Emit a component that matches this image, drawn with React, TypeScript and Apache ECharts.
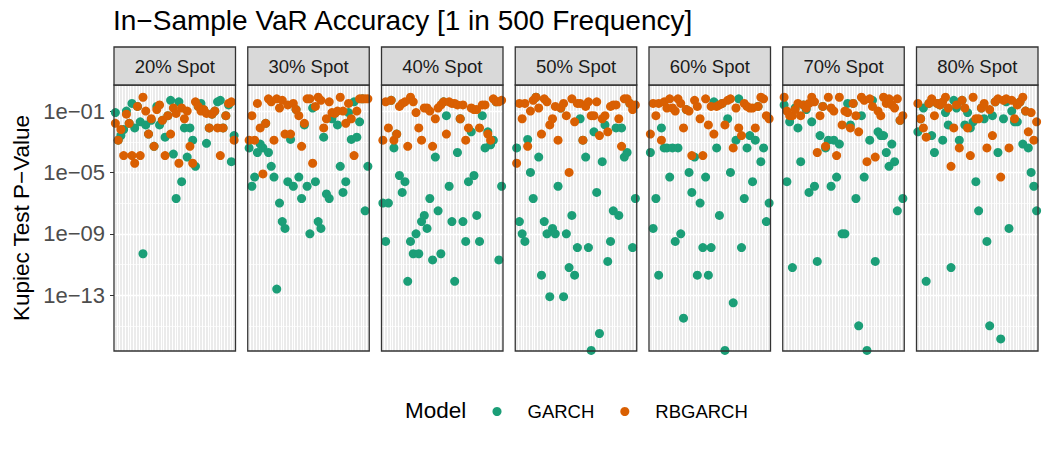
import React, { useEffect, useRef } from 'react';
import * as echarts from 'echarts';

// ---------- data ----------
const panelLabels = ['20% Spot', '30% Spot', '40% Spot', '50% Spot', '60% Spot', '70% Spot', '80% Spot'];
const seriesNames = ['GARCH', 'RBGARCH'];
const seriesColors = ['#1B9E77', '#D95F02'];
// 44 discrete x positions per panel (no labels shown)
const xCategories = Array.from({ length: 44 }, (_, i) => String(i + 1));
// y ticks (log10 of p-value)
const yMajorTicks = [-13, -9, -5, -1];
const yMinorTicks = [-15, -11, -7, -3];

// log10(Kupiec p-value) per x position
const garch20 = [-1.1, -2.9, -2.6, -2.2, -1.0, -1.8, -0.5, -2.1, -0.7, -1.7, -10.3, -1.9, -2.5, -1.6, -3.3, -0.7, -1.9, -1.6, -2.7, -1.3, -0.3, -3.8, -6.7, -0.4, -5.6, -2.1, -4.0, -2.1, -2.9, -4.6, -0.7, -0.5, -0.9, -3.1, -2.1, -1.2, -1.0, -0.4, -0.3, -2.1, -1.3, -0.6, -4.3, -2.6];
const rbgarch20 = [-1.8, -2.9, -2.2, -3.9, -1.2, -1.8, -3.9, -4.4, -0.7, -3.9, -0.1, -1.0, -2.5, -1.5, -3.3, -0.9, -0.6, -1.6, -3.9, -1.3, -2.5, -0.8, -1.15, -4.4, -0.8, -1.5, -1.0, -3.3, -4.4, -0.4, -0.7, -1.0, -0.9, -1.15, -2.1, -1.2, -1.0, -2.1, -3.9, -2.1, -1.3, -0.5, -0.4, -2.9];

const garch30 = [-3.4, -5.9, -5.3, -3.7, -3.15, -3.4, -1.8, -3.7, -4.6, -5.3, -12.6, -7.0, -8.2, -8.65, -5.6, -2.85, -5.9, -0.9, -5.3, -6.7, -1.9, -5.9, -9.0, -0.8, -5.6, -8.2, -8.65, -2.7, -6.4, -6.7, -1.5, -1.15, -1.9, -4.6, -6.3, -5.6, -1.1, -2.85, -0.4, -2.7, -1.7, -0.2, -7.5, -4.6];
const rbgarch30 = [-2.9, -1.3, -2.9, -0.5, -2.1, -5.1, -1.8, -0.2, -0.4, -2.9, -0.2, -0.8, -0.3, -2.5, -0.6, -2.5, -0.5, -0.9, -1.3, -3.3, -1.8, -0.2, -0.2, -4.4, -0.7, -0.1, -0.3, -2.1, -1.5, -0.4, -1.1, -1.15, -1.0, -0.1, -1.0, -1.8, -0.5, -1.5, -3.9, -1.0, -0.2, -0.2, -0.2, -0.2];

const garch40 = [-7.0, -9.5, -7.0, -0.3, -3.4, -2.5, -5.2, -6.3, -5.6, -12.1, -9.5, -10.3, -9.0, -10.3, -8.2, -7.8, -8.65, -6.7, -10.7, -4.0, -7.5, -10.3, -0.4, -1.3, -5.9, -8.2, -12.1, -3.7, -1.5, -8.2, -9.5, -5.6, -2.35, -5.2, -7.8, -9.5, -1.3, -3.4, -2.35, -3.2, -2.9, -0.4, -10.7, -5.9];
const rbgarch40 = [-2.9, -0.4, -2.1, -0.3, -2.9, -2.5, -0.7, -0.5, -0.4, -3.3, -0.1, -0.4, -1.1, -2.1, -2.9, -0.8, -0.8, -1.0, -3.3, -1.5, -0.8, -0.6, -0.4, -2.5, -0.4, -0.5, -0.5, -0.6, -1.5, -0.6, -2.9, -2.1, -0.8, -0.9, -0.9, -2.1, -0.6, -0.6, -2.5, -2.9, -0.2, -0.4, -0.4, -0.3];

const garch50 = [-3.4, -8.2, -9.0, -9.5, -2.85, -5.0, -6.7, -0.1, -4.0, -11.7, -8.2, -9.0, -13.1, -8.65, -9.0, -5.9, -0.8, -13.1, -9.0, -11.2, -7.8, -11.7, -9.9, -1.5, -2.9, -4.0, -9.9, -16.6, -2.35, -6.3, -15.5, -4.3, -1.9, -10.8, -9.5, -7.5, -2.1, -7.8, -2.1, -4.0, -3.7, -0.5, -9.9, -6.7];
const rbgarch50 = [-4.4, -0.5, -1.5, -0.5, -3.3, -1.0, -0.3, -0.1, -0.8, -2.5, -0.2, -0.4, -1.9, -1.5, -0.7, -2.9, -0.8, -0.5, -1.3, -5.0, -0.2, -1.7, -0.5, -0.5, -2.9, -0.7, -0.4, -1.3, -1.3, -0.4, -2.6, -1.5, -1.3, -2.35, -0.7, -0.6, -0.6, -1.5, -3.3, -0.2, -0.2, -0.5, -0.9, -0.6];

const garch60 = [-3.7, -8.65, -6.7, -11.7, -2.1, -3.4, -3.4, -5.3, -3.4, -9.5, -3.4, -9.0, -14.5, -0.9, -5.0, -6.3, -4.0, -11.7, -7.0, -9.9, -5.3, -11.7, -9.9, -0.4, -3.4, -7.8, -0.5, -16.6, -1.5, -5.0, -13.5, -2.9, -0.2, -9.9, -6.7, -3.4, -2.6, -5.6, -2.9, -0.7, -4.3, -3.4, -8.2, -7.0];
const rbgarch60 = [-2.5, -0.5, -1.3, -0.5, -2.9, -0.4, -0.8, -0.2, -0.8, -1.0, -0.2, -0.5, -2.1, -0.9, -1.0, -3.9, -0.3, -0.7, -1.5, -3.9, -0.2, -1.9, -0.7, -2.5, -0.7, -0.6, -0.5, -1.9, -0.3, -0.2, -3.4, -0.8, -2.1, -2.6, -0.5, -0.7, -0.8, -0.8, -2.1, -0.7, -0.1, -0.2, -1.3, -1.5];

const garch70 = [-0.6, -5.6, -1.7, -11.2, -0.8, -2.1, -4.3, -0.6, -0.9, -6.3, -1.7, -5.9, -10.8, -2.6, -0.7, -3.4, -2.9, -5.9, -2.9, -5.3, -3.15, -9.0, -9.0, -0.5, -1.9, -0.5, -6.7, -15.0, -1.3, -5.3, -16.6, -2.9, -0.3, -10.8, -2.35, -2.6, -2.6, -3.7, -4.6, -3.15, -4.3, -7.5, -1.6, -6.7];
const rbgarch70 = [-0.1, -1.0, -1.3, -1.3, -0.9, -0.5, -1.3, -0.6, -0.8, -0.5, -0.1, -0.4, -3.7, -1.3, -0.7, -3.3, -0.1, -0.8, -1.0, -3.9, -0.1, -1.9, -1.0, -1.1, -2.1, -0.5, -1.3, -2.35, -0.1, -0.3, -4.3, -0.2, -0.7, -4.0, -1.0, -1.3, -0.1, -0.5, -0.2, -0.6, -0.8, -0.2, -1.6, -1.3];

const garch80 = [-2.35, -1.5, -0.8, -12.1, -0.5, -2.6, -3.7, -0.5, -0.6, -2.9, -1.1, -1.9, -11.2, -0.3, -0.8, -2.9, -0.3, -1.9, -1.1, -2.1, -1.7, -5.6, -7.5, -0.8, -1.5, -9.5, -15.0, -1.3, -0.4, -3.7, -15.85, -1.5, -0.4, -8.65, -1.0, -1.7, -1.7, -0.4, -3.15, -1.0, -3.4, -5.0, -5.9, -7.5];
const rbgarch80 = [-0.5, -1.5, -2.1, -2.7, -0.5, -0.2, -1.3, -0.5, -0.6, -0.4, -0.1, -0.8, -4.6, -2.1, -0.6, -3.4, -0.3, -0.8, -2.1, -3.9, -0.1, -1.5, -1.5, -0.8, -0.5, -3.4, -0.9, -2.6, -0.4, -0.2, -5.3, -0.3, -0.2, -3.4, -0.3, -1.5, -0.6, -0.4, -0.1, -1.0, -2.35, -1.1, -2.9, -1.7];

const garchPanels = [garch20, garch30, garch40, garch50, garch60, garch70, garch80];
const rbgarchPanels = [rbgarch20, rbgarch30, rbgarch40, rbgarch50, rbgarch60, rbgarch70, rbgarch80];

// ---------- layout ----------
const FONT = '"Liberation Sans", Arial, Helvetica, sans-serif';
const Y_MIN = -16.64;
const Y_MAX = 0.7;
const PANEL_LEFT0 = 114;
const PANEL_STEP = 133.75;
const PANEL_W = 121.5;
const PANEL_TOP = 85;
const PANEL_H = 266;
const STRIP_TOP = 47;

const fmtExp = (v: number) => {
  const a = Math.round(Math.abs(v));
  return '1e' + (v < 0 ? '\u2212' : '+') + (a < 10 ? '0' + a : String(a));
};

export default function App() {
  const ref = useRef<HTMLDivElement>(null);

  useEffect(() => {
    document.body.style.margin = '0';
    if (!ref.current) return;
    const chart = echarts.init(ref.current, undefined, { renderer: 'svg' });

    const grids: any[] = [];
    const xAxes: any[] = [];
    const yAxes: any[] = [];
    const series: any[] = [];
    const graphics: any[] = [];

    panelLabels.forEach((label, k) => {
      const left = PANEL_LEFT0 + k * PANEL_STEP;
      grids.push({
        left, top: PANEL_TOP, width: PANEL_W, height: PANEL_H,
        show: true, backgroundColor: '#EBEBEB', borderWidth: 0,
      });
      xAxes.push({
        type: 'category', gridIndex: k, data: xCategories, boundaryGap: true,
        axisLine: { show: false }, axisTick: { show: false }, axisLabel: { show: false },
        splitLine: { show: true, interval: 0, lineStyle: { color: '#FFFFFF', width: 1 } },
      });
      yAxes.push({
        type: 'value', gridIndex: k, min: Y_MIN, max: Y_MAX, position: 'left',
        axisLine: { show: false },
        axisTick: { show: k === 0, customValues: yMajorTicks, length: 4, lineStyle: { color: '#333333', width: 1 } },
        axisLabel: {
          show: k === 0, customValues: yMajorTicks, formatter: fmtExp,
          color: '#4D4D4D', fontSize: 22, fontFamily: FONT, margin: 9,
        },
        splitLine: { show: true, lineStyle: { color: '#FFFFFF', width: 1.4 } },
      });
      yAxes.push({
        type: 'value', gridIndex: k, min: Y_MIN, max: Y_MAX, position: 'left',
        axisLine: { show: false },
        axisTick: { show: false, customValues: yMinorTicks },
        axisLabel: { show: false, customValues: yMinorTicks },
        splitLine: { show: true, lineStyle: { color: '#FFFFFF', width: 0.7 } },
      });
      series.push({
        type: 'scatter', name: seriesNames[0], xAxisIndex: k, yAxisIndex: 2 * k,
        data: garchPanels[k], symbolSize: 9, itemStyle: { color: seriesColors[0], opacity: 1 },
        silent: true, z: 3,
      });
      series.push({
        type: 'scatter', name: seriesNames[1], xAxisIndex: k, yAxisIndex: 2 * k,
        data: rbgarchPanels[k], symbolSize: 9, itemStyle: { color: seriesColors[1], opacity: 1 },
        silent: true, z: 4,
      });
      graphics.push({
        type: 'rect', z: 100,
        shape: { x: left, y: PANEL_TOP, width: PANEL_W, height: PANEL_H },
        style: { fill: 'none', stroke: '#333333', lineWidth: 1.3 },
      });
      graphics.push({
        type: 'rect', z: 100,
        shape: { x: left, y: STRIP_TOP, width: PANEL_W, height: PANEL_TOP - STRIP_TOP },
        style: { fill: '#D9D9D9', stroke: '#333333', lineWidth: 1.3 },
      });
      graphics.push({
        type: 'text', z: 101, x: left + PANEL_W / 2, y: (STRIP_TOP + PANEL_TOP) / 2,
        style: {
          text: label, fill: '#1A1A1A', font: `18.5px ${FONT}`,
          textAlign: 'center', textVerticalAlign: 'middle',
        },
      });
    });

    graphics.push({
      type: 'text', z: 101, x: 21, y: PANEL_TOP + PANEL_H / 2, rotation: Math.PI / 2,
      style: {
        text: 'Kupiec Test P\u2212Value', fill: '#000000', font: `22.5px ${FONT}`,
        textAlign: 'center', textVerticalAlign: 'middle',
      },
    });
    graphics.push({
      type: 'text', z: 101, x: 405, y: 410,
      style: {
        text: 'Model', fill: '#000000', font: `22.5px ${FONT}`,
        textAlign: 'left', textVerticalAlign: 'middle',
      },
    });
    graphics.push({
      type: 'text', z: 101, x: 113, y: 20.5,
      style: {
        text: 'In\u2212Sample VaR Accuracy [1 in 500 Frequency]', fill: '#000000', font: `28px ${FONT}`,
        textAlign: 'left', textVerticalAlign: 'middle',
      },
    });

    chart.setOption({
      animation: false,
      textStyle: { fontFamily: FONT },
      grid: grids,
      xAxis: xAxes,
      yAxis: yAxes,
      series,
      legend: {
        data: seriesNames,
        icon: 'circle',
        itemWidth: 9,
        itemHeight: 9,
        itemGap: 26,
        left: 487.5,
        top: 397,
        selectedMode: false,
        textStyle: { fontSize: 18.5, color: '#000000', fontFamily: FONT, padding: [0, 0, 0, 21] },
      },
      graphic: graphics,
    });

    return () => chart.dispose();
  }, []);

  return <div ref={ref} style={{ width: 1050, height: 450 }} />;
}
